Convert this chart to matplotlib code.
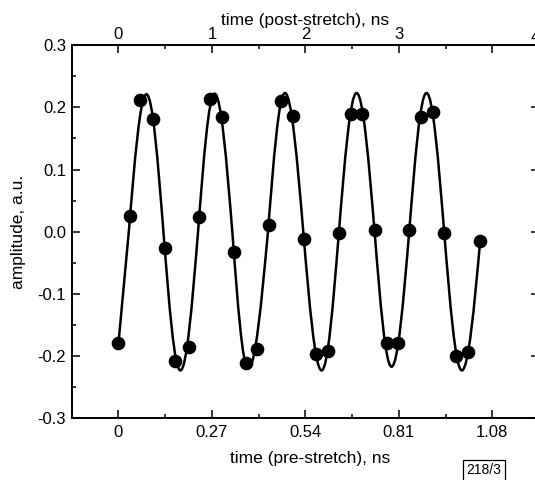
import matplotlib
matplotlib.use("Agg")
import matplotlib.pyplot as plt
from matplotlib.path import Path
from matplotlib.patches import PathPatch
from matplotlib.ticker import FixedLocator, MultipleLocator, FormatStrFormatter

plt.rcParams["font.family"] = ["Liberation Sans", "DejaVu Sans"]
plt.rcParams["axes.unicode_minus"] = False

# measured samples (pre-stretch time, ns / amplitude, a.u.)
t_pre = [0.000, 0.033, 0.062, 0.100, 0.134, 0.163, 0.204, 0.234, 0.264, 0.298,
         0.334, 0.368, 0.399, 0.435, 0.471, 0.504, 0.536, 0.570, 0.606, 0.638,
         0.672, 0.705, 0.741, 0.775, 0.808, 0.840, 0.873, 0.908, 0.941, 0.974,
         1.009, 1.045]
amp = [-0.179, 0.026, 0.211, 0.182, -0.026, -0.208, -0.186, 0.023, 0.213, 0.185,
       -0.032, -0.211, -0.189, 0.011, 0.210, 0.186, -0.011, -0.197, -0.192, -0.002,
       0.189, 0.189, 0.003, -0.179, -0.179, 0.002, 0.184, 0.192, -0.002, -0.200,
       -0.194, -0.015]

# fitted curve: start, zero crossings and extrema
fit_t = [0.000, 0.030, 0.081, 0.130, 0.179, 0.230, 0.278, 0.329, 0.375, 0.432,
         0.481, 0.534, 0.587, 0.637, 0.688, 0.740, 0.789, 0.840, 0.890, 0.941,
         0.992, 1.045]
fit_amp = [-0.180, 0.0, 0.221, 0.0, -0.223, 0.0, 0.222, 0.0, -0.220, 0.0,
           0.223, 0.0, -0.223, 0.0, 0.223, 0.0, -0.217, 0.0, 0.223, 0.0,
           -0.223, -0.015]

bottom_ticks = [0, 0.27, 0.54, 0.81, 1.08]
bottom_labels = ["0", "0.27", "0.54", "0.81", "1.08"]
top_ticks = [0, 1, 2, 3, 4]
top_labels = ["0", "1", "2", "3", ""]
stretch = 0.27  # pre-stretch ns per post-stretch ns


def fit_path(xs, ys):
    # cubic bezier pieces that follow a sine between zero crossings and extrema
    n = len(xs)
    is_ext = [0 < i < n - 1 and abs(ys[i]) > 0.1 for i in range(n)]
    verts = [(xs[0], ys[0])]
    codes = [Path.MOVETO]
    for i in range(n - 1):
        x0, y0, x1, y1 = xs[i], ys[i], xs[i + 1], ys[i + 1]
        d = x1 - x0
        if is_ext[i]:
            c1 = (x0 + 0.362 * d, y0)
            c2 = (x0 + 0.674 * d, y1 + 0.512 * (y0 - y1))
        elif is_ext[i + 1]:
            c1 = (x0 + 0.326 * d, y0 + 0.512 * (y1 - y0))
            c2 = (x0 + 0.638 * d, y1)
        else:
            c1 = (x0 + d / 3, y0 + (y1 - y0) / 3)
            c2 = (x0 + 2 * d / 3, y0 + 2 * (y1 - y0) / 3)
        verts += [c1, c2, (x1, y1)]
        codes += [Path.CURVE4] * 3
    return Path(verts, codes)


fig = plt.figure(figsize=(5.35, 4.8), dpi=100, facecolor="white")
ax = fig.add_axes([0.134, 0.1285, 0.8735, 0.7775])

ax.add_patch(PathPatch(fit_path(fit_t, fit_amp), fill=False, edgecolor="black",
                       linewidth=1.8, zorder=2))
ax.plot(t_pre, amp, "o", color="black", markersize=8.8, zorder=3)

ax.set_xlim(-0.135, 1.215)
ax.set_ylim(-0.3, 0.3)

ax.xaxis.set_major_locator(FixedLocator(bottom_ticks))
ax.set_xticklabels(bottom_labels)
ax.xaxis.set_minor_locator(FixedLocator([0.135, 0.405, 0.675, 0.945]))
ax.yaxis.set_major_locator(MultipleLocator(0.1))
ax.yaxis.set_minor_locator(MultipleLocator(0.05))
ax.yaxis.set_major_formatter(FormatStrFormatter("%.1f"))

ax.tick_params(which="both", direction="in", top=False, right=True,
               labelsize=12, width=1.1)
ax.tick_params(which="major", length=6, pad=5)
ax.tick_params(axis="y", which="major", pad=4)
ax.tick_params(which="minor", length=3)
for s in ax.spines.values():
    s.set_linewidth(1.4)

sec = ax.secondary_xaxis("top", functions=(lambda x: x / stretch, lambda x: x * stretch))
sec.set_xticks(top_ticks)
sec.set_xticklabels(top_labels)
sec.xaxis.set_minor_locator(FixedLocator([0.5, 1.5, 2.5, 3.5]))
sec.tick_params(which="both", direction="in", labelsize=12, width=1.1)
sec.tick_params(which="major", length=6, pad=2)
sec.tick_params(which="minor", length=3)
sec.spines["top"].set_linewidth(1.4)
sec.set_xlabel("time (post-stretch), ns", fontsize=12.5, labelpad=2)

ax.set_xlabel("time (pre-stretch), ns", fontsize=12.5)
ax.xaxis.set_label_coords(0.51, -0.088)
ax.set_ylabel("amplitude, a.u.", fontsize=12.5)
ax.yaxis.set_label_coords(-0.098, 0.499)

fig.text(531 / 535, 1 - 37 / 480, "4", ha="left", va="center", fontsize=12)
fig.text(484 / 535, 0.02, "218/3", ha="center", va="center", fontsize=10,
         bbox=dict(boxstyle="square,pad=0.25", facecolor="white",
                   edgecolor="black", linewidth=0.9))

fig.savefig("out.png", dpi=100)
